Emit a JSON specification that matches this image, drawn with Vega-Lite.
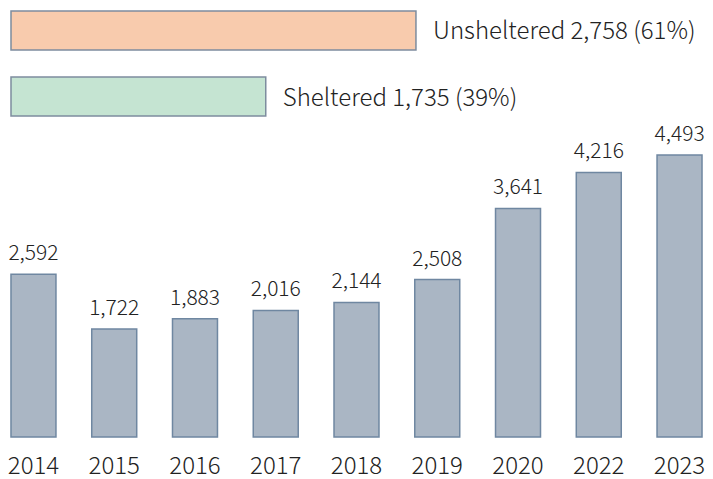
{
  "$schema": "https://vega.github.io/schema/vega-lite/v6.json",
  "padding": 0,
  "spacing": 0,
  "bounds": "flush",
  "background": "white",
  "config": {"view": {"stroke": null}, "font": "Noto Sans CJK KR"},
  "datasets": {
    "split": [
      {"group": "Unsheltered", "count": 2758, "label": "Unsheltered 2,758 (61%)", "color": "#F8CBAD"},
      {"group": "Sheltered", "count": 1735, "label": "Sheltered 1,735 (39%)", "color": "#C5E4D2"}
    ],
    "years": [
      {"year": "2014", "count": 2592},
      {"year": "2015", "count": 1722},
      {"year": "2016", "count": 1883},
      {"year": "2017", "count": 2016},
      {"year": "2018", "count": 2144},
      {"year": "2019", "count": 2508},
      {"year": "2020", "count": 3641},
      {"year": "2022", "count": 4216},
      {"year": "2023", "count": 4493}
    ]
  },
  "vconcat": [
    {
      "width": 713,
      "height": 127,
      "data": {"name": "split"},
      "encoding": {
        "y": {"field": "group", "type": "nominal", "sort": ["Unsheltered", "Sheltered"], "axis": null,
              "scale": {"paddingInner": 0.41, "paddingOuter": 0.167}},
        "x": {"field": "count", "type": "quantitative", "axis": null,
              "scale": {"domain": [-74.9, 4781], "zero": false, "nice": false}}
      },
      "layer": [
        {"mark": {"type": "bar", "stroke": "#7D8C9E", "strokeWidth": 1.5},
         "encoding": {"fill": {"field": "color", "type": "nominal", "scale": null}}},
        {"mark": {"type": "text", "align": "left", "baseline": "middle", "dx": 17, "dy": 2, "fontSize": 24, "fontWeight": 300, "color": "#222222"},
         "encoding": {"text": {"field": "label"}}}
      ]
    },
    {
      "width": 713,
      "height": 310,
      "data": {"name": "years"},
      "encoding": {
        "x": {"field": "year", "type": "nominal", "sort": null,
              "scale": {"paddingInner": 0.443, "paddingOuter": 0.136},
              "axis": {"title": null, "domain": false, "ticks": false, "labelAngle": 0,
                       "labelFontSize": 24, "labelFontWeight": 300, "labelColor": "#222222", "labelPadding": 36,
                       "labelBaseline": "alphabetic"}},
        "y": {"field": "count", "type": "quantitative", "axis": null,
              "scale": {"domain": [0, 4939], "nice": false}}
      },
      "layer": [
        {"mark": {"type": "bar", "fill": "#AAB6C4", "stroke": "#6F87A1", "strokeWidth": 1.5}},
        {"mark": {"type": "text", "baseline": "bottom", "dy": -10, "fontSize": 21, "fontWeight": 300, "color": "#222222"},
         "encoding": {"text": {"field": "count", "type": "quantitative", "format": ","}}}
      ]
    }
  ]
}
